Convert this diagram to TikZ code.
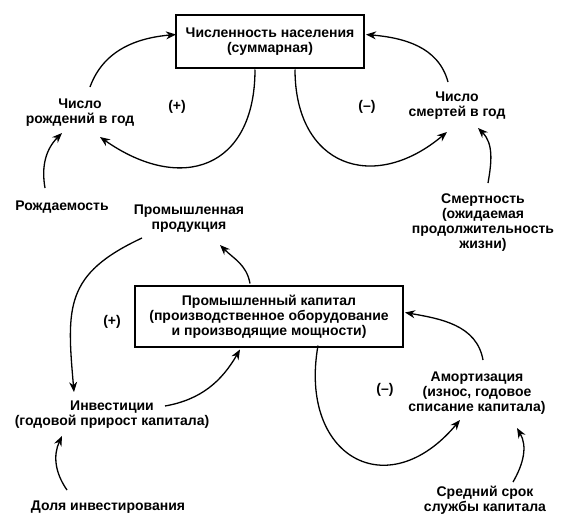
\documentclass[tikz,border=0pt]{standalone}
\usepackage{fontspec}
\setmainfont{Liberation Sans}
\usepackage{tikz}
\usetikzlibrary{arrows.meta,calc}

\begin{document}
\begin{tikzpicture}[
        x=1pt, y=-1pt,
        stock/.style={draw=black, line width=1.5pt, inner sep=0pt},
        factor/.style={align=center, inner sep=1pt},
        link/.style={line width=1.3pt, -{Stealth[length=10pt,width=8pt]}},
        font=\fontsize{14}{15}\selectfont\bfseries
    ]
    \useasboundingbox (0,0) rectangle (570,522);

    % ---------- население ----------
    \node[stock, minimum width=188pt, minimum height=53pt, align=center] (pop) at (270,41.5)
        {Численность населения\\(суммарная)};
    \node[factor] (births) at (80,113) {Число\\рождений в год};
    \node[factor] (deaths) at (457,106) {Число\\смертей в год};
    \node[factor] (birthrate) at (62,207) {Рождаемость};
    \node[factor] (mort) at (483,223) {Смертность\\(ожидаемая\\продолжительность\\жизни)};
    \node (popplus) at (177,107) {(+)};
    \node (popminus) at (367,107) {(--)};

    % ---------- капитал ----------
    \node[stock, minimum width=268pt, minimum height=61pt, align=center] (capital) at (269,316.5)
        {Промышленный капитал\\(производственное оборудование\\и производящие мощности)};
    \node[factor] (output) at (189,219) {Промышленная\\продукция};
    \node[factor] (invest) at (112,415) {Инвестиции\\(годовой прирост капитала)};
    \node[factor] (investfrac) at (108,507) {Доля инвестирования};
    \node[factor] (deprec) at (477,393) {Амортизация\\(износ, годовое\\списание капитала)};
    \node[factor] (lifetime) at (485,500) {Средний срок\\службы капитала};
    \node (capplus) at (112,322) {(+)};
    \node (capminus) at (385,390) {(--)};

    % ---------- петли населения ----------
    \draw[link] ($(births)+(10,-26)$) to[out=70, in=185] ($(pop)+(-94,-7)$);
    \draw[link] ($(pop)+(-15,28)$) to[out=-90, in=-35, looseness=1.5] ($(births)+(20,24)$);
    \draw[link] ($(pop)+(25,28)$) to[out=-90, in=-140, looseness=1.5] ($(deaths)+(-10,26)$);
    \draw[link] ($(deaths)+(-9,-24)$) to[out=105, in=-5] ($(pop)+(96,-7)$);
    \draw[link] ($(birthrate)+(-17,-19)$) to[out=100, in=-135] ($(births)+(-18,20)$);
    \draw[link] ($(mort)+(5,-40)$) to[out=80, in=-45] ($(deaths)+(21,22)$);

    % ---------- петли капитала ----------
    \draw[link] ($(output)+(-47,19)$) to[out=205, in=95, looseness=1.3] ($(invest)+(-38,-23)$);
    \draw[link] ($(capital)+(-19,-33)$) to[out=100, in=-45] ($(output)+(31,26)$);
    \draw[link] ($(invest)+(53,-9)$) to[out=10, in=-120] ($(capital)+(-29,33)$);
    \draw[link] ($(investfrac)+(-41,-17)$) to[out=125, in=-115] ($(invest)+(-50,21)$);
    \draw[link] ($(capital)+(49,29)$) to[out=-100, in=-130, looseness=1.8] ($(deprec)+(-17,27)$);
    \draw[link] ($(deprec)+(6,-33)$) to[out=100, in=-10] ($(capital)+(136,-4)$);
    \draw[link] ($(lifetime)+(28,-18)$) to[out=60, in=-60] ($(deprec)+(40,35)$);

\end{tikzpicture}
\end{document}
